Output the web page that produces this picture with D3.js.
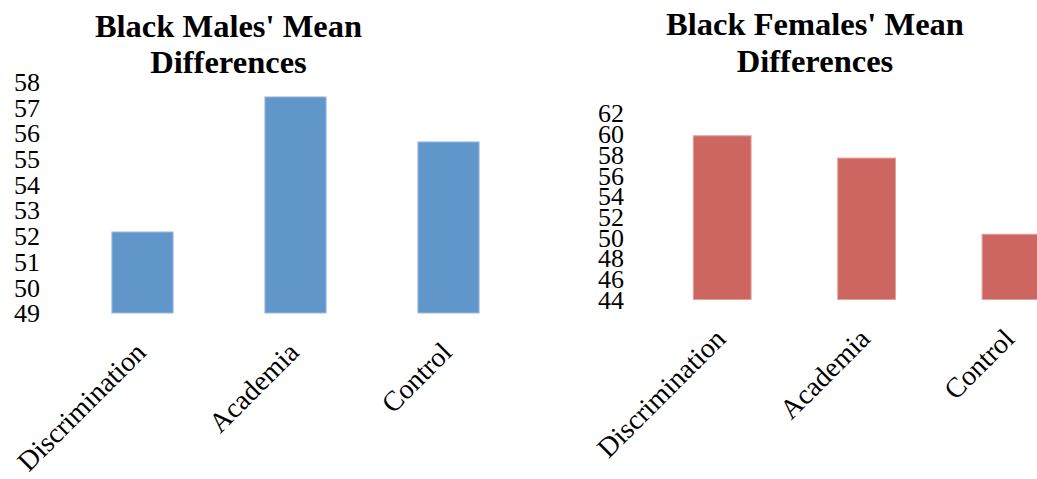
<!DOCTYPE html>
<html>
<head>
<meta charset="utf-8">
<script src="https://cdn.jsdelivr.net/npm/d3@7"></script>
<style>
  html, body { margin: 0; padding: 0; background: #fff; }
  svg { display: block; overflow: hidden; }
  text { font-family: "Liberation Serif", "Times New Roman", serif; fill: #000; }
</style>
</head>
<body>
<svg id="chart" width="1037" height="479"></svg>
<script>
// Category names shared by both panels
const categories = ["Discrimination", "Academia", "Control"];

// Black males' mean differences
const maleValues = [52.15, 57.4, 55.65];
const maleTicks = [49, 50, 51, 52, 53, 54, 55, 56, 57, 58];
const maleTitle = ["Black Males' Mean", "Differences"];

// Black females' mean differences
const femaleValues = [59.8, 57.65, 50.3];
const femaleTicks = [44, 46, 48, 50, 52, 54, 56, 58, 60, 62];
const femaleTitle = ["Black Females' Mean", "Differences"];

const svg = d3.select("#chart");

function panel(cfg) {
  const g = svg.append("g");

  const x = d3.scaleBand()
    .domain(categories)
    .range([cfg.x0, cfg.x1])
    .paddingInner(0.6)
    .paddingOuter(0.3);

  const y = d3.scaleLinear()
    .domain(d3.extent(cfg.ticks))
    .range([cfg.yBottom, cfg.yTop]);

  // Title, two lines
  const title = g.append("text")
    .attr("text-anchor", "middle")
    .style("font-weight", "bold")
    .style("font-size", "32.5px");
  cfg.title.forEach((line, i) => {
    title.append("tspan")
      .attr("x", cfg.titleX)
      .attr("y", cfg.titleY[i])
      .text(line);
  });

  // Value axis: labels only, no line or ticks
  const yAxis = g.append("g")
    .attr("transform", `translate(${cfg.x0},0)`)
    .call(d3.axisLeft(y).tickValues(cfg.ticks).tickSize(0).tickPadding(26).tickFormat(d3.format("d")));
  yAxis.select(".domain").remove();
  yAxis.selectAll("text")
    .attr("dy", "0.34em")
    .style("font-family", "'Liberation Serif', serif")
    .style("font-size", "26px")
    .attr("fill", "#000");

  // Bars
  g.selectAll("rect.bar")
    .data(cfg.values)
    .join("rect")
    .attr("class", "bar")
    .attr("x", (d, i) => x(categories[i]))
    .attr("width", x.bandwidth())
    .attr("y", d => y(d))
    .attr("height", d => y(cfg.ticks[0]) - y(d))
    .attr("fill", cfg.color)
    .attr("stroke", cfg.stroke)
    .attr("stroke-width", 1);

  // Rotated category labels
  g.selectAll("text.cat")
    .data(categories)
    .join("text")
    .attr("class", "cat")
    .attr("text-anchor", "end")
    .style("font-size", "28px")
    .attr("transform", d => `translate(${x(d) + x.bandwidth() / 2 + 5},${y(cfg.ticks[0]) + 41}) rotate(-45)`)
    .text(d => d);
}

panel({
  x0: 66, x1: 525,
  yBottom: 313, yTop: 81.5,
  ticks: maleTicks,
  values: maleValues,
  title: maleTitle,
  titleX: 228.5, titleY: [37, 73],
  color: "#6096c9",
  stroke: "#9dbde0"
});

panel({
  x0: 650, x1: 1083.2,
  yBottom: 299.5, yTop: 113,
  ticks: femaleTicks,
  values: femaleValues,
  title: femaleTitle,
  titleX: 815, titleY: [35, 72],
  color: "#cd6660",
  stroke: "#e0a09c"
});
</script>
</body>
</html>
